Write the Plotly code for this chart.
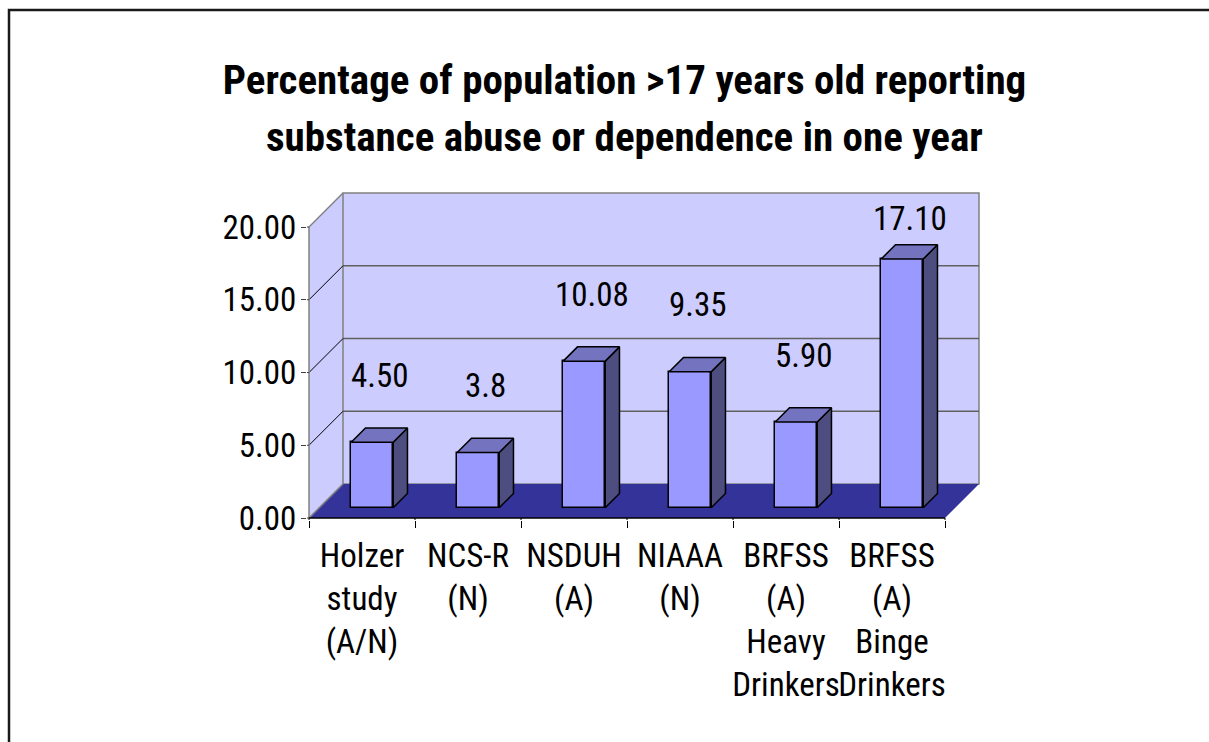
import plotly.graph_objects as go

# ---------------- data ----------------
categories = ["Holzer<br>study<br>(A/N)", "NCS-R<br>(N)", "NSDUH<br>(A)", "NIAAA<br>(N)",
              "BRFSS<br>(A)<br>Heavy<br>Drinkers", "BRFSS<br>(A)<br>Binge<br>Drinkers"]
values = [4.50, 3.8, 10.08, 9.35, 5.90, 17.10]
value_labels = ["4.50", "3.8", "10.08", "9.35", "5.90", "17.10"]
y_ticks = [0, 5, 10, 15, 20]
title_lines = ["Percentage of population >17 years old reporting",
               "substance abuse or dependence in one year"]

# ---------------- geometry (pixels -> axis ranges) ----------------
W, H = 1209, 742
AX_L, AX_R, AX_B, AX_T = 309, 945, 518, 227     # front axis box in px
PL, PR, PT, PB = 307, 983, 189, 520             # plot area in px
n = len(values)
xpx = (AX_R - AX_L) / n                          # px per category
ypx = (AX_B - AX_T) / 20.0                       # px per unit
DX = 34 / xpx                                    # depth offset (x units)
DY = 34 / ypx                                    # depth offset (y units)
xr = [-0.5 - (AX_L - PL) / xpx, -0.5 + (PR - AX_L) / xpx]
yr = [-(PB - AX_B) / ypx, (AX_B - PT) / ypx]
YMAX = 20

BAR_W = 0.396
BAR_Z0, BAR_Z1 = 0.30, 0.72                      # bar depth span (fraction of floor depth)

WALL = "#CCCCFF"
FLOOR = "#333399"
FRONT = "#9999FF"
TOP = "#7373C0"
SIDE = "#4D4D80"
FONT = "Roboto Condensed, Liberation Sans Narrow, Arial Narrow, sans-serif"
FS = 33

fig = go.Figure()
shapes = []

def line(x0, y0, x1, y1, color, width):
    shapes.append(dict(type="line", xref="x", yref="y", x0=x0, y0=y0, x1=x1, y1=y1,
                       line=dict(color=color, width=width), layer="below"))

x_left = -0.5
x_right = n - 0.5
# side wall
shapes.append(dict(type="path", xref="x", yref="y", layer="below",
                   path=f"M {x_left},0 L {x_left},{YMAX} L {x_left+DX},{YMAX+DY} L {x_left+DX},{DY} Z",
                   fillcolor=WALL, line=dict(width=0)))
# back wall
shapes.append(dict(type="rect", xref="x", yref="y", layer="below",
                   x0=x_left + DX, x1=x_right + DX, y0=DY, y1=YMAX + DY,
                   fillcolor=WALL, line=dict(color="#808080", width=1.5)))
# floor
shapes.append(dict(type="path", xref="x", yref="y", layer="below",
                   path=f"M {x_left},0 L {x_right},0 L {x_right+DX},{DY} L {x_left+DX},{DY} Z",
                   fillcolor=FLOOR, line=dict(width=0)))
# gridlines on back and side walls
for t in y_ticks[1:-1]:
    line(x_left + DX, t + DY, x_right + DX, t + DY, "#606060", 1.5)
    line(x_left, t, x_left + DX, t + DY, "#000000", 1)
# wall edges
line(x_left, 0, x_left, YMAX, "#808080", 1.5)
line(x_left, YMAX, x_left + DX, YMAX + DY, "#808080", 1.5)
line(x_left, 0, x_left + DX, DY, "#808080", 1.5)
line(x_left, 0, x_right, 0, "#000000", 1.5)
# short tick continuation inside the plot area to meet the axis line
for i in range(n + 1):
    line(i - 0.5, 0, i - 0.5, yr[0], "#000000", 1)
for t in y_ticks:
    line(x_left, t, xr[0], t, "#404040", 1)

# ---------------- bars ----------------
xs_front = [i + BAR_Z0 * DX for i in range(n)]
base = BAR_Z0 * DY
fig.add_trace(go.Bar(x=xs_front, y=values, base=base, width=BAR_W,
                     marker=dict(color=FRONT, line=dict(color="#000000", width=1.5)),
                     hoverinfo="skip", showlegend=False))

bdx = (BAR_Z1 - BAR_Z0) * DX
bdy = (BAR_Z1 - BAR_Z0) * DY
tx, ty, sx, sy = [], [], [], []
for xc, v in zip(xs_front, values):
    x0, x1 = xc - BAR_W / 2, xc + BAR_W / 2
    top = v + base
    tx += [x0, x1, x1 + bdx, x0 + bdx, x0, None]
    ty += [top, top, top + bdy, top + bdy, top, None]
    sx += [x1, x1 + bdx, x1 + bdx, x1, x1, None]
    sy += [base, base + bdy, top + bdy, top, base, None]
fig.add_trace(go.Scatter(x=sx, y=sy, mode="lines", fill="toself", fillcolor=SIDE,
                         line=dict(color="#000000", width=1.5), hoverinfo="skip", showlegend=False))
fig.add_trace(go.Scatter(x=tx, y=ty, mode="lines", fill="toself", fillcolor=TOP,
                         line=dict(color="#000000", width=1.5), hoverinfo="skip", showlegend=False))

# value labels
LABEL_GAP = 4.6
LABEL_CAP = 20.6
for xc, v, s in zip(xs_front, values, value_labels):
    fig.add_annotation(x=xc + 0.07, y=min(v + base + LABEL_GAP, LABEL_CAP), text=s,
                       showarrow=False, xanchor="center", yanchor="middle",
                       font=dict(family=FONT, size=FS, color="#000000"))

# ---------------- layout ----------------
def px_to_paper_x(p):
    return (p - PL) / (PR - PL)

def px_to_paper_y(p):
    return (PB - p) / (PB - PT)

TITLE_X = 624.5
TITLE_Y = [80, 137]
TITLE_FONT = dict(family=FONT, size=41, color="#000000", weight="bold")
# second title line (separate so the line spacing matches the original)
fig.add_annotation(xref="paper", yref="paper", x=px_to_paper_x(TITLE_X), y=px_to_paper_y(TITLE_Y[1]),
                   text=title_lines[1], showarrow=False, xanchor="center", yanchor="middle",
                   font=TITLE_FONT)

# outer chart border
shapes.append(dict(type="rect", xref="paper", yref="paper",
                   x0=px_to_paper_x(9), x1=px_to_paper_x(W + 20),
                   y0=px_to_paper_y(H + 20), y1=px_to_paper_y(10),
                   line=dict(color="#1a1a1a", width=2.5), fillcolor="rgba(0,0,0,0)", layer="above"))

fig.update_layout(
    width=W, height=H,
    margin=dict(l=PL, r=W - PR, t=PT, b=H - PB, pad=0),
    paper_bgcolor="white", plot_bgcolor="white",
    shapes=shapes,
    bargap=0,
    title=dict(text=title_lines[0],
               xref="container", yref="container", x=TITLE_X / W, y=1 - TITLE_Y[0] / H,
               xanchor="center", yanchor="middle", font=TITLE_FONT),
    xaxis=dict(range=xr, showgrid=False, zeroline=False, showline=False,
               tickmode="array", tickvals=list(range(n)), ticktext=categories,
               ticks="", ticklabelstandoff=13, tickangle=0,
               tickfont=dict(family=FONT, size=FS, color="#000000"),
               minor=dict(tickmode="array", tickvals=[i - 0.5 for i in range(n + 1)],
                          ticks="outside", ticklen=7, tickcolor="#000000", tickwidth=1)),
    yaxis=dict(range=yr, showgrid=False, zeroline=False, showline=False,
               tickmode="array", tickvals=y_ticks, tickformat=".2f",
               ticks="outside", ticklen=5, tickcolor="#404040", tickwidth=1,
               ticklabelstandoff=-2,
               tickfont=dict(family=FONT, size=FS, color="#000000")),
)

fig.write_html("out.html")
